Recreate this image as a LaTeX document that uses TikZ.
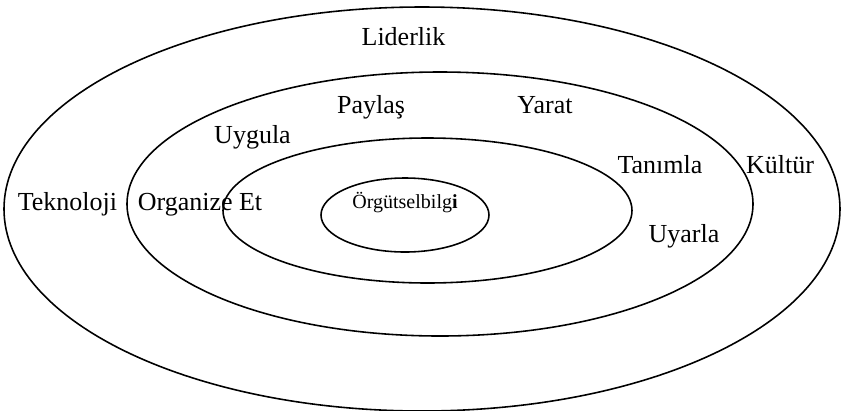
\documentclass[tikz,border=0pt]{standalone}
\usepackage{fontspec}
\setmainfont{Liberation Serif}
\usepackage{tikz}

\begin{document}
\begin{tikzpicture}[x=0.02cm,y=0.02cm,
    ring/.style={line width=0.9pt},
    lbl/.style={anchor=base,inner sep=0pt,font=\fontsize{14.8}{17}\selectfont},
    core/.style={anchor=base,inner sep=0pt,font=\fontsize{11.4}{13}\selectfont}]
  \useasboundingbox (0,0) rectangle (842,-410);
  % rings, outside in
  \draw[ring] (422,-209) ellipse (418 and 202);
  \draw[ring] (440,-204) ellipse (313 and 132);
  \draw[ring] (427.5,-210.5) ellipse (204.5 and 72.5);
  \draw[ring] (405,-215) ellipse (84 and 37);
  % outer ring
  \node[lbl] (liderlik) at (403.5,-45) {Liderlik};
  \node[lbl] (teknoloji) at (67.5,-210) {Teknoloji};
  \node[lbl] (kultur) at (780,-173) {Kültür};
  % second ring
  \node[lbl] (paylas) at (371,-113) {Paylaş};
  \node[lbl] (yarat) at (545,-113) {Yarat};
  \node[lbl] (uygula) at (252.5,-143) {Uygula};
  \node[lbl] (organize) at (200,-210) {Organize Et};
  \node[lbl] (tanimla) at (660,-173) {Tanımla};
  \node[lbl] (uyarla) at (684,-242) {Uyarla};
  % core
  \node[core] (bilgi) at (405,-208) {Örgütselbilg\textbf{i}};
\end{tikzpicture}
\end{document}
